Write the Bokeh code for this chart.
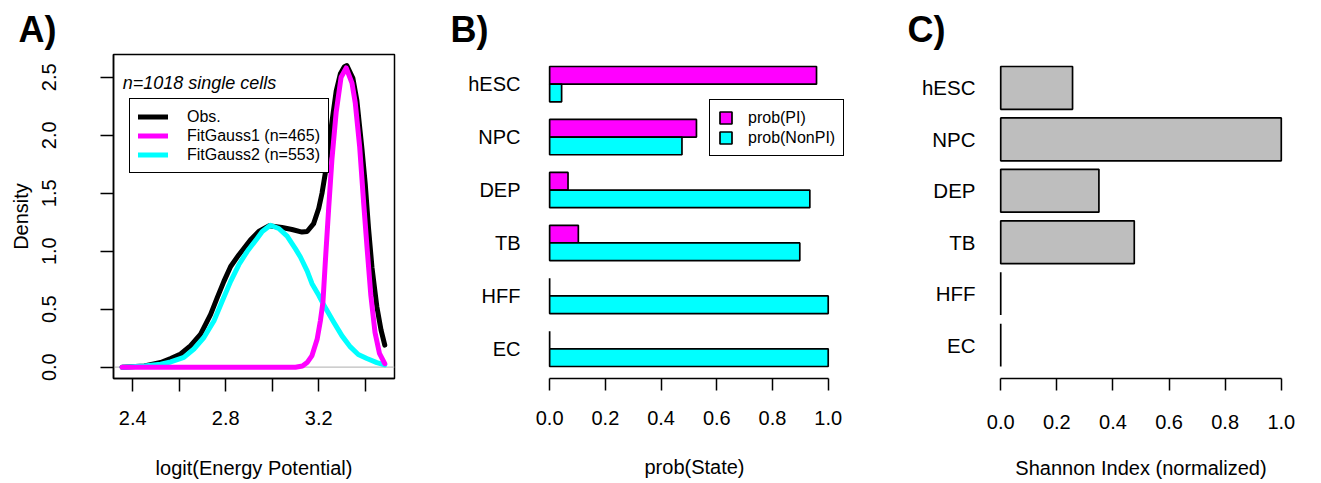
from bokeh.plotting import figure
from bokeh.models import Range1d, FixedTicker, Span, Label, Legend, LegendItem
from bokeh.layouts import row
from bokeh.embed import file_html
from bokeh.resources import INLINE

FONT = "Liberation Sans"

# ---------------- Panel A data ----------------
obs_x = [2.354, 2.45, 2.52, 2.563, 2.606, 2.649, 2.692, 2.735, 2.763, 2.792, 2.821, 2.856,
         2.906, 2.942, 2.985, 3.042, 3.085, 3.128, 3.150, 3.178, 3.200, 3.214, 3.228, 3.243,
         3.257, 3.275, 3.293, 3.310, 3.321, 3.347, 3.364, 3.386, 3.400, 3.414, 3.429, 3.450,
         3.468, 3.484]
obs_y = [0.0, 0.01, 0.04, 0.075, 0.114, 0.185, 0.285, 0.456, 0.598, 0.740, 0.868, 0.968,
         1.096, 1.17, 1.219, 1.204, 1.187, 1.165, 1.17, 1.238, 1.37, 1.50, 1.67, 1.90,
         2.12, 2.38, 2.53, 2.59, 2.60, 2.49, 2.30, 1.88, 1.58, 1.20, 0.86, 0.52,
         0.32, 0.19]

g1_x = [2.354, 2.70, 3.00, 3.10, 3.130, 3.150, 3.171, 3.193, 3.207, 3.218, 3.228, 3.243,
        3.257, 3.275, 3.296, 3.318, 3.343, 3.357, 3.376, 3.393, 3.407, 3.424, 3.442, 3.461,
        3.484]
g1_y = [0.0, 0.0, 0.0, 0.0, 0.01, 0.04, 0.10, 0.24, 0.40, 0.56, 0.90, 1.38,
        1.80, 2.20, 2.50, 2.58, 2.45, 2.28, 1.90, 1.42, 1.05, 0.62, 0.30, 0.12,
        0.03]

g2_x = [2.354, 2.45, 2.52, 2.563, 2.620, 2.663, 2.706, 2.749, 2.785, 2.821, 2.856, 2.892,
        2.935, 2.957, 2.992, 3.028, 3.064, 3.100, 3.121, 3.150, 3.171, 3.200, 3.218, 3.264,
        3.300, 3.336, 3.370, 3.407, 3.450, 3.484]
g2_y = [0.0, 0.01, 0.025, 0.045, 0.085, 0.157, 0.256, 0.399, 0.57, 0.74, 0.883, 0.997,
        1.11, 1.17, 1.224, 1.196, 1.13, 1.02, 0.95, 0.83, 0.72, 0.62, 0.55, 0.39,
        0.27, 0.175, 0.11, 0.075, 0.04, 0.02]

density_ticks = [0.0, 0.5, 1.0, 1.5, 2.0, 2.5]
density_labels = ["0.0", "0.5", "1.0", "1.5", "2.0", "2.5"]
logit_ticks = [2.4, 2.6, 2.8, 3.0, 3.2, 3.4]
logit_labels = ["2.4", "", "2.8", "", "3.2", ""]

# ---------------- Panels B and C data ----------------
states = ["hESC", "NPC", "DEP", "TB", "HFF", "EC"]
prob_pl = [0.958, 0.527, 0.066, 0.103, 0.0, 0.0]
prob_nonpl = [0.043, 0.475, 0.934, 0.898, 1.0, 1.0]
shannon = [0.256, 1.0, 0.350, 0.476, 0.0, 0.0]
prob_ticks = [0.0, 0.2, 0.4, 0.6, 0.8, 1.0]
prob_labels = ["0.0", "0.2", "0.4", "0.6", "0.8", "1.0"]

MAGENTA = "#FF00FF"
CYAN = "#00FFFF"
GREY = "#BEBEBE"
LW = 5
BAR_LW = 1.7


def style_axis(ax, tick_out, standoff, title_standoff=None):
    ax.major_tick_out = tick_out
    ax.major_tick_in = 0
    ax.minor_tick_out = 0
    ax.minor_tick_in = 0
    ax.major_tick_line_width = 1.5
    ax.major_tick_line_color = "black"
    ax.axis_line_width = 1.5
    ax.axis_line_color = "black"
    ax.major_label_text_font = FONT
    ax.major_label_text_font_size = "20px"
    ax.major_label_text_color = "black"
    ax.major_label_standoff = standoff
    ax.axis_label_text_font = FONT
    ax.axis_label_text_font_size = "20px"
    ax.axis_label_text_font_style = "normal"
    ax.axis_label_text_color = "black"
    if title_standoff is not None:
        ax.axis_label_standoff = title_standoff


def panel_title(p, text, offset, standoff):
    t = p.title
    t.text = text
    t.align = "left"
    t.offset = offset
    t.standoff = standoff
    t.text_font = FONT
    t.text_font_size = "36px"
    t.text_font_style = "bold"
    t.text_color = "black"


# ================= Panel A =================
pA = figure(width=440, height=483, x_range=Range1d(2.3172, 3.5258), y_range=Range1d(-0.0974, 2.696),
            min_border_left=113, min_border_right=46, min_border_top=51, min_border_bottom=105,
            output_backend="svg", toolbar_location=None, title="A)")
pA.xgrid.visible = False
pA.ygrid.visible = False
pA.outline_line_color = "black"
pA.outline_line_width = 1.5
pA.outline_line_alpha = 1.0
panel_title(pA, "A)", -95, 9)

pA.add_layout(Span(location=0, dimension="width", line_color=GREY, line_width=1.2, level="underlay"))

r_obs = pA.line(obs_x, obs_y, line_color="black", line_width=LW, line_cap="round", line_join="round")
r_g2 = pA.line(g2_x, g2_y, line_color=CYAN, line_width=LW, line_cap="round", line_join="round")
r_g1 = pA.line(g1_x, g1_y, line_color=MAGENTA, line_width=LW, line_cap="round", line_join="round")

pA.xaxis.ticker = FixedTicker(ticks=logit_ticks)
pA.xaxis.major_label_overrides = {t: l for t, l in zip(logit_ticks, logit_labels)}
pA.yaxis.ticker = FixedTicker(ticks=density_ticks)
pA.yaxis.major_label_overrides = {t: l for t, l in zip(density_ticks, density_labels)}
pA.yaxis.major_label_orientation = "vertical"
pA.xaxis.axis_label = "logit(Energy Potential)"
pA.yaxis.axis_label = "Density"
style_axis(pA.xaxis[0], 13, 19, 29)
style_axis(pA.yaxis[0], 13, 44, 8)

legA = Legend(items=[LegendItem(label="Obs.", renderers=[r_obs]),
                     LegendItem(label="FitGauss1 (n=465)", renderers=[r_g1]),
                     LegendItem(label="FitGauss2 (n=553)", renderers=[r_g2])],
              location=(16, 205), label_text_font=FONT, label_text_font_size="16px",
              label_text_color="black", glyph_width=30, glyph_height=19, label_height=19,
              label_standoff=19, padding=8, spacing=0, margin=0,
              border_line_color="black", border_line_width=1.5, border_line_alpha=1.0,
              background_fill_color="white", background_fill_alpha=1.0)
pA.add_layout(legA)

pA.add_layout(Label(x=2.357, y=2.454, text="n=1018 single cells", text_font=FONT,
                    text_font_size="18px", text_font_style="italic", text_color="black",
                    text_baseline="alphabetic"))

# ================= Panel B =================
n = len(states)
grp_center_B = [3 * (n - 1 - k) + 2 for k in range(n)]
pl_pos = [c + 0.5 for c in grp_center_B]
nonpl_pos = [c - 0.5 for c in grp_center_B]

pB = figure(width=440, height=483, x_range=Range1d(-0.04, 1.08), y_range=Range1d(0.32, 18.68),
            min_border_left=98, min_border_right=30, min_border_top=51, min_border_bottom=105,
            output_backend="svg", toolbar_location=None, title="B)")
pB.xgrid.visible = False
pB.ygrid.visible = False
pB.outline_line_color = None
panel_title(pB, "B)", -88, 9)

r_pl = pB.hbar(y=pl_pos, height=1, left=0, right=prob_pl, fill_color=MAGENTA,
               line_color="black", line_width=BAR_LW)
r_nonpl = pB.hbar(y=nonpl_pos, height=1, left=0, right=prob_nonpl, fill_color=CYAN,
                  line_color="black", line_width=BAR_LW)

pB.xaxis.ticker = FixedTicker(ticks=prob_ticks)
pB.xaxis.major_label_overrides = {t: l for t, l in zip(prob_ticks, prob_labels)}
pB.xaxis.bounds = (0, 1)
pB.xaxis.axis_label = "prob(State)"
style_axis(pB.xaxis[0], 12, 20, 28)
pB.yaxis.ticker = FixedTicker(ticks=grp_center_B)
pB.yaxis.major_label_overrides = {c: s for c, s in zip(grp_center_B, states)}
style_axis(pB.yaxis[0], 0, 18)
pB.yaxis.axis_line_color = None
pB.yaxis.major_tick_line_color = None

legB = Legend(items=[LegendItem(label="prob(PI)", renderers=[r_pl]),
                     LegendItem(label="prob(NonPI)", renderers=[r_nonpl])],
              location=(171, 222), label_text_font=FONT, label_text_font_size="16px",
              label_text_color="black", glyph_width=15, glyph_height=15, label_height=19,
              label_standoff=15, padding=8, spacing=1, margin=0,
              border_line_color="black", border_line_width=1.5, border_line_alpha=1.0,
              background_fill_color="white", background_fill_alpha=1.0)
pB.add_layout(legB)

# ================= Panel C =================
grp_center_C = [1.2 * (n - 1 - k) + 0.7 for k in range(n)]

pC = figure(width=441, height=483, x_range=Range1d(-0.04, 1.04), y_range=Range1d(-0.08, 7.48),
            min_border_left=109, min_border_right=29, min_border_top=54, min_border_bottom=101,
            output_backend="svg", toolbar_location=None, title="C)")
pC.xgrid.visible = False
pC.ygrid.visible = False
pC.outline_line_color = None
panel_title(pC, "C)", -82, 9)

pC.hbar(y=grp_center_C, height=1, left=0, right=shannon, fill_color=GREY,
        line_color="black", line_width=BAR_LW)

pC.xaxis.ticker = FixedTicker(ticks=prob_ticks)
pC.xaxis.major_label_overrides = {t: l for t, l in zip(prob_ticks, prob_labels)}
pC.xaxis.bounds = (0, 1)
pC.xaxis.axis_label = "Shannon Index (normalized)"
style_axis(pC.xaxis[0], 12, 24, 25)
pC.yaxis.ticker = FixedTicker(ticks=grp_center_C)
pC.yaxis.major_label_overrides = {c: s for c, s in zip(grp_center_C, states)}
style_axis(pC.yaxis[0], 0, 14)
pC.yaxis.axis_line_color = None
pC.yaxis.major_tick_line_color = None
pC.yaxis.major_label_text_font_size = "20.5px"

layout = row(pA, pB, pC)
open("out.html", "w").write(file_html(layout, INLINE))
